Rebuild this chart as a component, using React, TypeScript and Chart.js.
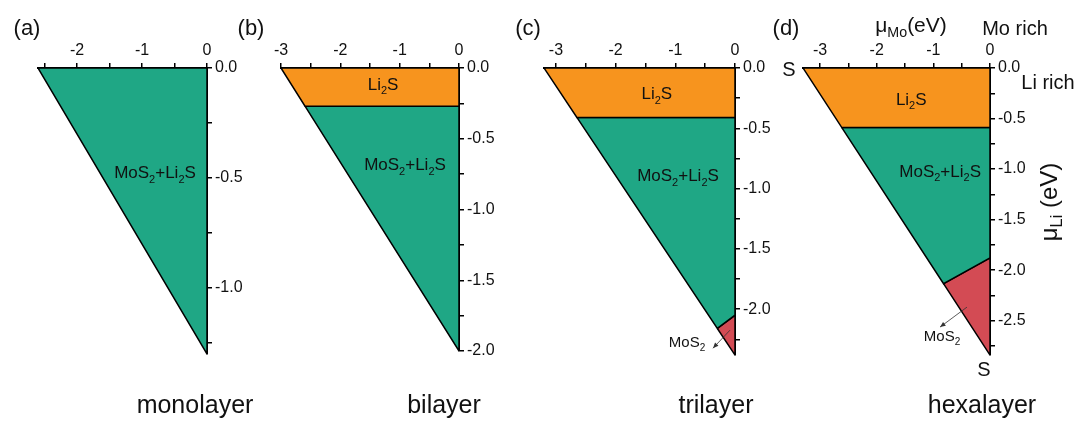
import React, { useEffect, useRef } from 'react';
import { Chart, registerables } from 'chart.js';
Chart.register(...registerables);

// ---------- data (chemical potentials, eV) ----------
const panelTags = ['(a)', '(b)', '(c)', '(d)'];
const panelNames = ['monolayer', 'bilayer', 'trilayer', 'hexalayer'];
const muMoMin = [-2.6, -3.0, -3.2, -3.3];
const muLiMin = [-1.3, -2.0, -2.38, -2.84];

// region polygons [muMo, muLi]
const monoMixed = [[-2.6, 0], [0, 0], [0, -1.3], [-2.6, 0]];
const biLi2S = [[-3.0, 0], [0, 0], [0, -0.27], [-2.595, -0.27], [-3.0, 0]];
const biMixed = [[-2.595, -0.27], [0, -0.27], [0, -2.0], [-2.595, -0.27]];
const triLi2S = [[-3.2, 0], [0, 0], [0, -0.41], [-2.649, -0.41], [-3.2, 0]];
const triMixed = [[-2.649, -0.41], [0, -0.41], [0, -2.05], [-0.296, -2.16], [-2.649, -0.41]];
const triMoS2 = [[-0.296, -2.16], [0, -2.05], [0, -2.38], [-0.296, -2.16]];
const hexLi2S = [[-3.3, 0], [0, 0], [0, -0.59], [-2.615, -0.59], [-3.3, 0]];
const hexMixed = [[-2.615, -0.59], [0, -0.59], [0, -1.88], [-0.82, -2.134], [-2.615, -0.59]];
const hexMoS2 = [[-0.82, -2.134], [0, -1.88], [0, -2.84], [-0.82, -2.134]];

// ---------- styling / layout ----------
const W = 1081;
const H = 421;
const GREEN = '#1FA785';
const ORANGE = '#F7941E';
const RED = '#D34B54';
const FONT = "'Liberation Sans', Arial, Helvetica, sans-serif";
const PLOT_TOP = 68;
const plotLeft = [38, 281, 544, 803];
const plotRight = [207, 459, 735, 990];
const plotBottom = [354, 351, 355, 355];
const X_AXIS_H = 30;
const Y_AXIS_W = 50;

type Part = [string, number];
const MIX: Part[] = [['MoS', 0], ['2', 1], ['+Li', 0], ['2', 1], ['S', 0]];
const LI2S: Part[] = [['Li', 0], ['2', 1], ['S', 0]];
const MOS2: Part[] = [['MoS', 0], ['2', 1]];

const panelDefs = [
  {
    regions: [[monoMixed, GREEN]],
    labels: [{ x: -0.8, y: -0.48, parts: MIX, size: 17 }],
    arrows: [],
  },
  {
    regions: [[biLi2S, ORANGE], [biMixed, GREEN]],
    labels: [
      { x: -1.28, y: -0.12, parts: LI2S, size: 17 },
      { x: -0.91, y: -0.69, parts: MIX, size: 17 },
    ],
    arrows: [],
  },
  {
    regions: [[triLi2S, ORANGE], [triMixed, GREEN], [triMoS2, RED]],
    labels: [
      { x: -1.31, y: -0.22, parts: LI2S, size: 17 },
      { x: -0.955, y: -0.9, parts: MIX, size: 17 },
      { x: -0.804, y: -2.282, parts: MOS2, size: 15 },
    ],
    arrows: [{ x1: -0.084, y1: -2.174, x2: -0.369, y2: -2.324 }],
  },
  {
    regions: [[hexLi2S, ORANGE], [hexMixed, GREEN], [hexMoS2, RED]],
    labels: [
      { x: -1.39, y: -0.32, parts: LI2S, size: 17 },
      { x: -0.88, y: -1.03, parts: MIX, size: 17 },
      { x: -0.847, y: -2.663, parts: MOS2, size: 15 },
    ],
    arrows: [{ x1: -0.406, y1: -2.366, x2: -0.882, y2: -2.564 }],
  },
];

function drawRich(ctx: CanvasRenderingContext2D, parts: Part[], cx: number, cy: number, size: number) {
  const subSize = Math.round(size * 0.65);
  let total = 0;
  const widths = parts.map(([t, sub]) => {
    ctx.font = `${sub ? subSize : size}px ${FONT}`;
    const w = ctx.measureText(t).width;
    total += w;
    return w;
  });
  let x = cx - total / 2;
  ctx.textBaseline = 'middle';
  ctx.textAlign = 'left';
  ctx.fillStyle = '#111';
  parts.forEach(([t, sub], k) => {
    ctx.font = `${sub ? subSize : size}px ${FONT}`;
    ctx.fillText(t, x, sub ? cy + size * 0.35 : cy);
    x += widths[k];
  });
}

function makeChart(canvas: HTMLCanvasElement, i: number) {
  const p = panelDefs[i];
  const datasets = p.regions.map(([pts, color]: any) => ({
    data: (pts as number[][]).map(([x, y]) => ({ x, y })),
    fill: 'shape',
    backgroundColor: color,
    borderColor: '#000',
    borderWidth: 1.5,
    pointRadius: 0,
    tension: 0,
  }));
  const annot = {
    id: 'annot' + i,
    afterDraw(chart: any) {
      const ctx = chart.ctx as CanvasRenderingContext2D;
      const sx = chart.scales.x;
      const sy = chart.scales.y;
      ctx.save();
      p.labels.forEach((l: any) => {
        drawRich(ctx, l.parts, sx.getPixelForValue(l.x), sy.getPixelForValue(l.y), l.size);
      });
      p.arrows.forEach((a: any) => {
        const x1 = sx.getPixelForValue(a.x1);
        const y1 = sy.getPixelForValue(a.y1);
        const x2 = sx.getPixelForValue(a.x2);
        const y2 = sy.getPixelForValue(a.y2);
        ctx.strokeStyle = '#333';
        ctx.fillStyle = '#333';
        ctx.lineWidth = 0.8;
        ctx.beginPath();
        ctx.moveTo(x1, y1);
        ctx.lineTo(x2, y2);
        ctx.stroke();
        const ang = Math.atan2(y2 - y1, x2 - x1);
        const L = 6;
        ctx.beginPath();
        ctx.moveTo(x2, y2);
        ctx.lineTo(x2 - L * Math.cos(ang - 0.4), y2 - L * Math.sin(ang - 0.4));
        ctx.lineTo(x2 - L * Math.cos(ang + 0.4), y2 - L * Math.sin(ang + 0.4));
        ctx.closePath();
        ctx.fill();
      });
      ctx.restore();
    },
  };
  const tickFont = { family: FONT, size: 16 };
  return new Chart(canvas, {
    type: 'line',
    data: { datasets: datasets as any },
    options: {
      responsive: false,
      animation: false,
      events: [],
      layout: {
        padding: {
          left: plotLeft[i],
          right: W - plotRight[i] - Y_AXIS_W,
          top: PLOT_TOP - X_AXIS_H,
          bottom: H - plotBottom[i],
        },
      },
      plugins: { legend: { display: false }, tooltip: { enabled: false } },
      scales: {
        x: {
          type: 'linear',
          position: 'top',
          min: muMoMin[i],
          max: 0,
          z: 1,
          afterFit: (s: any) => {
            s.height = X_AXIS_H;
          },
          ticks: {
            stepSize: 0.5,
            includeBounds: false,
            autoSkip: false,
            maxRotation: 0,
            padding: 3,
            color: '#111',
            font: tickFont,
            callback: (v: any) => (Math.abs(v - Math.round(v)) < 1e-9 ? String(Math.round(v)) : ''),
          },
          grid: { drawOnChartArea: false, drawTicks: true, tickLength: 5, color: '#000', lineWidth: 1.5 },
          border: { display: true, color: '#000', width: 2 },
        },
        y: {
          type: 'linear',
          position: 'right',
          min: muLiMin[i],
          max: 0,
          z: 1,
          afterFit: (s: any) => {
            s.width = Y_AXIS_W;
          },
          ticks: {
            stepSize: 0.25,
            includeBounds: false,
            autoSkip: false,
            padding: 3,
            color: '#111',
            font: tickFont,
            callback: (v: any) => (Math.abs(v * 2 - Math.round(v * 2)) < 1e-9 ? Number(v).toFixed(1) : ''),
          },
          grid: { drawOnChartArea: false, drawTicks: true, tickLength: 5, color: '#000', lineWidth: 1.5 },
          border: { display: true, color: '#000', width: 2 },
        },
      },
    } as any,
    plugins: [annot],
  });
}

const captionX = [195, 444, 716, 982];
const tagX = [27, 251, 528, 786];

const Sub = ({ children }: { children: React.ReactNode }) => (
  <span style={{ fontSize: '0.68em', position: 'relative', top: '0.32em' }}>{children}</span>
);

function Txt({ x, y, size, children, rotate }: { x: number; y: number; size: number; children: React.ReactNode; rotate?: number }) {
  return (
    <div
      style={{
        position: 'absolute',
        left: x,
        top: y,
        fontSize: size,
        lineHeight: 1,
        whiteSpace: 'nowrap',
        color: '#111',
        transform: `translate(-50%, -50%)${rotate ? ` rotate(${rotate}deg)` : ''}`,
      }}
    >
      {children}
    </div>
  );
}

export default function App() {
  const refs = [useRef<HTMLCanvasElement>(null), useRef<HTMLCanvasElement>(null), useRef<HTMLCanvasElement>(null), useRef<HTMLCanvasElement>(null)];
  useEffect(() => {
    const charts = refs.map((r, i) => makeChart(r.current as HTMLCanvasElement, i));
    return () => charts.forEach((c) => c.destroy());
  }, []);
  return (
    <div style={{ position: 'fixed', left: 0, top: 0, width: W, height: H, background: '#fff', fontFamily: FONT, overflow: 'hidden' }}>
      {refs.map((r, i) => (
        <canvas key={i} ref={r} width={W} height={H} style={{ position: 'absolute', left: 0, top: 0 }} />
      ))}
      {panelTags.map((t, i) => (
        <Txt key={'t' + i} x={tagX[i]} y={28} size={22}>{t}</Txt>
      ))}
      {panelNames.map((t, i) => (
        <Txt key={'n' + i} x={captionX[i]} y={404} size={25}>{t}</Txt>
      ))}
      <Txt x={911} y={24} size={21}>μ<Sub>Mo</Sub>(eV)</Txt>
      <Txt x={1015} y={28} size={20}>Mo rich</Txt>
      <Txt x={1048} y={82} size={20}>Li rich</Txt>
      <Txt x={1049} y={202} size={24} rotate={-90}>μ<Sub>Li</Sub> (eV)</Txt>
      <Txt x={789} y={69} size={20}>S</Txt>
      <Txt x={984} y={369} size={20}>S</Txt>
    </div>
  );
}
